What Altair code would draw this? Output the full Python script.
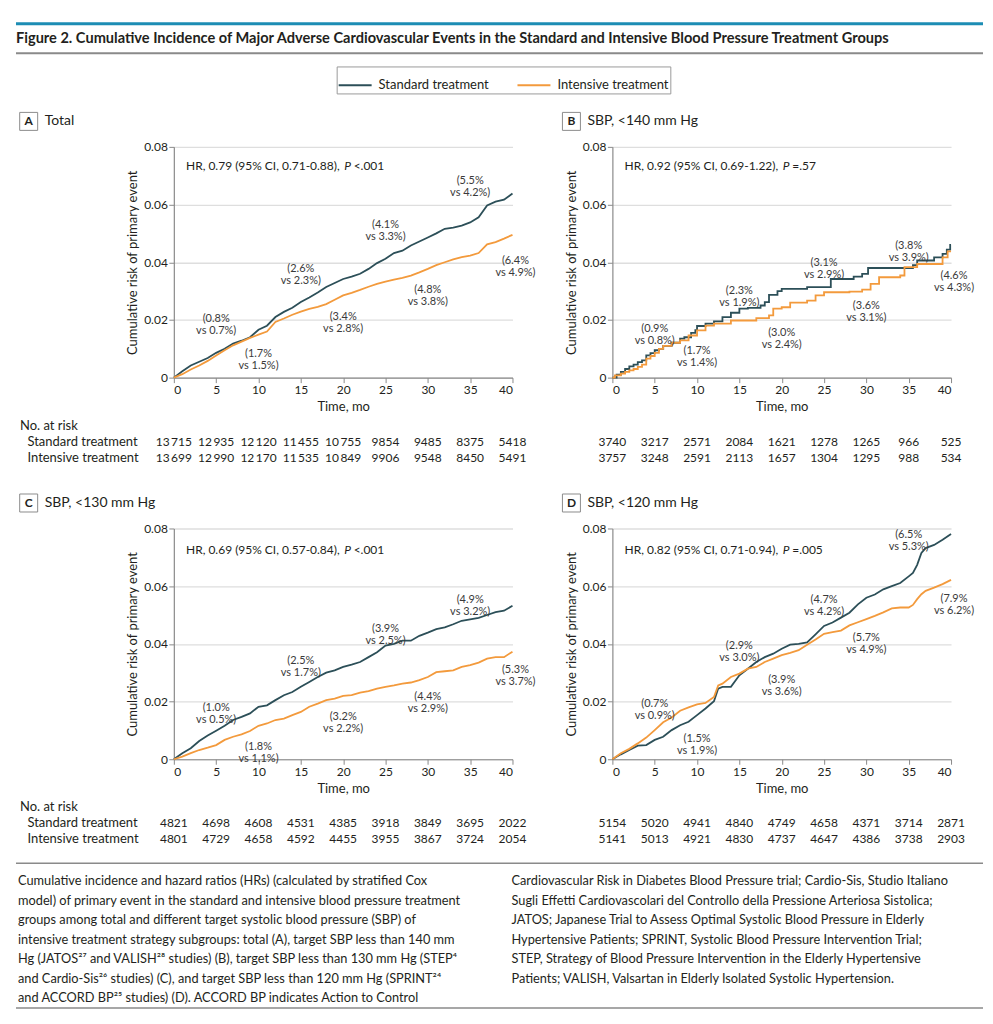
import altair as alt
import pandas as pd

FONT = "Lato"
TXT = "#231f20"
ANN = "#3a3a3a"
STD = "Standard treatment"
INT = "Intensive treatment"
GROUPS = [STD, INT]
COLORS = ["#2c4f58", "#f39a3c"]
W, H = 339, 231
TICKS_X = [0, 5, 10, 15, 20, 25, 30, 35, 40]
TICKS_Y = [0, 0.02, 0.04, 0.06, 0.08]

# ---------------- curve readings ----------------
a_time = list(range(41))
a_std = [0, .0022, .0042, .0055, .0068, .0086, .0100, .0118, .0128, .0140, .0166, .0180, .0210, .0228,
         .0242, .0262, .0278, .0295, .0314, .0328, .0342, .0350, .0360, .0377, .0397, .0412, .0432,
         .0440, .0458, .0472, .0486, .0500, .0516, .0520, .0527, .0538, .0556, .0597, .0610, .0617, .0638]
a_int = [0, .0012, .0028, .0042, .0058, .0077, .0095, .0112, .0125, .0138, .0149, .0160, .0193, .0205,
         .0218, .0229, .0238, .0245, .0255, .0270, .0285, .0294, .0304, .0315, .0325, .0333, .0340,
         .0346, .0354, .0365, .0377, .0390, .0400, .0410, .0418, .0423, .0432, .0462, .0470, .0482, .0495]

b_std_time = [0, 0.5, 1, 1.5, 2, 2.5, 3, 3.5, 4, 4.5, 5, 5.5, 6, 7, 8, 8.5, 9.3, 9.8, 10, 11, 12, 13, 14,
              15, 16, 17.5, 18, 18.5, 19.5, 20, 23, 25.8, 28.5, 29.5, 30.2, 35.5, 36, 38, 39, 39.5, 39.9, 40]
b_std = [0, .0010, .0020, .0030, .0039, .0045, .0054, .0060, .0077, .0085, .0095, .0100, .0110, .0121,
         .0135, .0140, .0155, .0165, .0179, .0187, .0195, .0210, .0225, .0239, .0242, .0250, .0262, .0287,
         .0300, .0308, .0314, .0342, .0350, .0360, .0380, .0390, .0406, .0417, .0429, .0444, .0460, .0460]
b_int_time = [0, 0.3, 1, 1.5, 2, 2.5, 3, 3.5, 4, 4.5, 5, 5.5, 6, 7, 8, 9, 10, 11, 12, 14, 17, 18.5, 19,
              20, 21, 23, 24, 25, 28, 29.5, 30.5, 31.5, 34, 34.5, 36, 39, 39.6, 40]
b_int = [0, .0008, .0014, .0020, .0025, .0030, .0037, .0045, .0066, .0075, .0086, .0100, .0110, .0121,
         .0129, .0146, .0164, .0180, .0187, .0198, .0206, .0216, .0239, .0244, .0260, .0267, .0285, .0296,
         .0298, .0305, .0325, .0348, .0354, .0383, .0394, .0417, .0438, .0438]

c_time = list(range(41))
c_std = [0, .0021, .0038, .0063, .0082, .0099, .0116, .0136, .0147, .0159, .0182, .0187, .0205, .0222,
         .0233, .0251, .0268, .0285, .0300, .0308, .0320, .0328, .0337, .0354, .0371, .0394, .0400,
         .0411, .0411, .0428, .0439, .0451, .0457, .0468, .0480, .0485, .0490, .0500, .0510, .0515, .0532]
c_int = [0, .0009, .0021, .0032, .0040, .0049, .0067, .0078, .0086, .0098, .0116, .0124, .0136, .0141,
         .0153, .0164, .0182, .0193, .0205, .0210, .0220, .0222, .0231, .0236, .0245, .0251, .0256,
         .0262, .0266, .0274, .0285, .0302, .0305, .0308, .0320, .0326, .0335, .0349, .0354, .0354, .0373]

d_time = [0, 1, 2, 3, 4, 5, 6, 7, 8, 9, 10, 11, 12, 12.5, 13, 14, 15, 16, 17, 18, 19, 20, 21, 22, 23, 24,
          25, 26, 27, 28, 29, 30, 31, 32, 33, 34, 35, 35.5, 36, 36.5, 37, 38, 39, 40]
d_std = [0, .0017, .0032, .0047, .0049, .0067, .0078, .0101, .0118, .0130, .0153, .0176, .0201, .0245,
         .0251, .0251, .0291, .0314, .0337, .0354, .0366, .0383, .0397, .0400, .0405, .0433, .0462, .0474,
         .0491, .0508, .0537, .0560, .0571, .0589, .0600, .0611, .0634, .0646, .0674, .0715, .0732, .0743,
         .0761, .0781]
d_int = [0, .0021, .0036, .0055, .0075, .0101, .0128, .0145, .0168, .0180, .0190, .0195, .0216, .0256,
         .0262, .0285, .0297, .0314, .0320, .0337, .0349, .0361, .0369, .0378, .0397, .0415, .0435, .0441,
         .0446, .0464, .0475, .0486, .0497, .0509, .0523, .0526, .0526, .0535, .0555, .0572, .0584, .0595,
         .0607, .0622]

# ---------------- annotation labels (time, risk, text) ----------------
ANN_TIME = [5, 10, 15, 20, 25, 30, 35, 40.35]
a_ann_r = [.0204, .0083, .0377, .0209, .0529, .0305, .0680, .0405]
a_ann = ["(0.8%\nvs 0.7%)", "(1.7%\nvs 1.5%)", "(2.6%\nvs 2.3%)", "(3.4%\nvs 2.8%)",
         "(4.1%\nvs 3.3%)", "(4.8%\nvs 3.8%)", "(5.5%\nvs 4.2%)", "(6.4%\nvs 4.9%)"]
b_ann_r = [.0167, .0091, .0300, .0153, .0397, .0247, .0456, .0354]
b_ann = ["(0.9%\nvs 0.8%)", "(1.7%\nvs 1.4%)", "(2.3%\nvs 1.9%)", "(3.0%\nvs 2.4%)",
         "(3.1%\nvs 2.9%)", "(3.6%\nvs 3.1%)", "(3.8%\nvs 3.9%)", "(4.6%\nvs 4.3%)"]
c_ann_r = [.0179, .0041, .0340, .0146, .0452, .0215, .0552, .0308]
c_ann = ["(1.0%\nvs 0.5%)", "(1.8%\nvs 1.1%)", "(2.5%\nvs 1.7%)", "(3.2%\nvs 2.2%)",
         "(3.9%\nvs 2.5%)", "(4.4%\nvs 2.9%)", "(4.9%\nvs 3.2%)", "(5.3%\nvs 3.7%)"]
d_ann_r = [.0193, .0070, .0393, .0275, .0552, .0421, .0776, .0556]
d_ann = ["(0.7%\nvs 0.9%)", "(1.5%\nvs 1.9%)", "(2.9%\nvs 3.0%)", "(3.9%\nvs 3.6%)",
         "(4.7%\nvs 4.2%)", "(5.7%\nvs 4.9%)", "(6.5%\nvs 5.3%)", "(7.9%\nvs 6.2%)"]

# ---------------- HR statements ----------------
a_hr = ("HR, 0.79 (95% CI, 0.71-0.88),", "<.001")
b_hr = ("HR, 0.92 (95% CI, 0.69-1.22),", "=.57")
c_hr = ("HR, 0.69 (95% CI, 0.57-0.84),", "<.001")
d_hr = ("HR, 0.82 (95% CI, 0.71-0.94),", "=.005")

# ---------------- number at risk ----------------
a_risk_std = [13715, 12935, 12120, 11455, 10755, 9854, 9485, 8375, 5418]
a_risk_int = [13699, 12990, 12170, 11535, 10849, 9906, 9548, 8450, 5491]
b_risk_std = [3740, 3217, 2571, 2084, 1621, 1278, 1265, 966, 525]
b_risk_int = [3757, 3248, 2591, 2113, 1657, 1304, 1295, 988, 534]
c_risk_std = [4821, 4698, 4608, 4531, 4385, 3918, 3849, 3695, 2022]
c_risk_int = [4801, 4729, 4658, 4592, 4455, 3955, 3867, 3724, 2054]
d_risk_std = [5154, 5020, 4941, 4840, 4749, 4658, 4371, 3714, 2871]
d_risk_int = [5141, 5013, 4921, 4830, 4737, 4647, 4386, 3738, 2903]

FIG_TITLE = ("Figure 2. Cumulative Incidence of Major Adverse Cardiovascular Events in the "
             "Standard and Intensive Blood Pressure Treatment Groups")
CAPTION_LEFT = [
    "Cumulative incidence and hazard ratios (HRs) (calculated by stratified Cox",
    "model) of primary event in the standard and intensive blood pressure treatment",
    "groups among total and different target systolic blood pressure (SBP) of",
    "intensive treatment strategy subgroups: total (A), target SBP less than 140 mm",
    "Hg (JATOS\u00b2\u2077 and VALISH\u00b2\u2078 studies) (B), target SBP less than 130 mm Hg (STEP\u2074",
    "and Cardio-Sis\u00b2\u2076 studies) (C), and target SBP less than 120 mm Hg (SPRINT\u00b2\u2074",
    "and ACCORD BP\u00b2\u2075 studies) (D). ACCORD BP indicates Action to Control",
]
CAPTION_RIGHT = [
    "Cardiovascular Risk in Diabetes Blood Pressure trial; Cardio-Sis, Studio Italiano",
    "Sugli Effetti Cardiovascolari del Controllo della Pressione Arteriosa Sistolica;",
    "JATOS; Japanese Trial to Assess Optimal Systolic Blood Pressure in Elderly",
    "Hypertensive Patients; SPRINT, Systolic Blood Pressure Intervention Trial;",
    "STEP, Strategy of Blood Pressure Intervention in the Elderly Hypertensive",
    "Patients; VALISH, Valsartan in Elderly Isolated Systolic Hypertension.",
]


def fmt_n(n):
    s = str(n)
    if len(s) >= 5:
        return s[:-3] + "\u2009" + s[-3:]
    return s


ONE = pd.DataFrame({"k": [0]})


def txt(text, x, y, size=12, weight="normal", align="left", baseline="middle", style="normal",
        color=TXT, **kw):
    return alt.Chart(ONE).mark_text(text=text, font=FONT, fontSize=size, fontWeight=weight, align=align,
                                    baseline=baseline, fontStyle=style, color=color, **kw).encode(
        x=alt.value(x), y=alt.value(y))


def rule(x1, x2, y, color, width):
    return alt.Chart(ONE).mark_rule(color=color, strokeWidth=width).encode(
        x=alt.value(x1), x2=alt.value(x2), y=alt.value(y))


legend = alt.Legend(orient="none", legendX=163, legendY=-80.5, direction="horizontal", title=None,
                    symbolType="stroke", symbolSize=1089, symbolStrokeWidth=2, labelFont=FONT,
                    labelFontSize=13, labelColor=TXT, strokeColor="#9a9a9a", padding=1,
                    columnPadding=24, labelOffset=6, fillColor="white", labelLimit=400)


def panel(letter, name, name_x, t_std, v_std, t_int, v_int, interp, ann_r, ann, hr, hr_y,
          risk_std, risk_int, row_labels, show_legend, extra=()):
    df = pd.DataFrame({"time": list(t_std) + list(t_int), "risk": list(v_std) + list(v_int),
                       "group": [STD] * len(t_std) + [INT] * len(t_int)})
    x = alt.X("time:Q", scale=alt.Scale(domain=[0, 40], nice=False),
              axis=alt.Axis(values=TICKS_X, title="Time, mo", grid=False, titlePadding=5))
    y = alt.Y("risk:Q", scale=alt.Scale(domain=[0, 0.08], nice=False),
              axis=alt.Axis(values=TICKS_Y, title="Cumulative risk of primary event", grid=True,
                            labelExpr="datum.value == 0 ? '0' : format(datum.value, '.2f')",
                            titlePadding=4))
    color = alt.Color("group:N", scale=alt.Scale(domain=GROUPS, range=COLORS),
                      legend=legend if show_legend else None)
    lines = alt.Chart(df).mark_line(interpolate=interp, strokeWidth=1.8).encode(
        x=x, y=y, color=color, detail="group:N")

    ann_df = pd.DataFrame({"time": ANN_TIME, "risk": ann_r, "label": ann})
    notes = alt.Chart(ann_df).mark_text(font=FONT, fontSize=11, lineBreak="\n", lineHeight=12,
                                        align="center", baseline="middle", color=ANN).encode(
        x="time:Q", y="risk:Q", text="label:N")

    tab = pd.DataFrame({"time": TICKS_X, "s": [fmt_n(v) for v in risk_std],
                        "i": [fmt_n(v) for v in risk_int]})
    row_s = alt.Chart(tab).mark_text(font=FONT, fontSize=12, align="center", baseline="middle",
                                     color=TXT).encode(x="time:Q", y=alt.value(H + 64), text="s:N")
    row_i = alt.Chart(tab).mark_text(font=FONT, fontSize=12, align="center", baseline="middle",
                                     color=TXT).encode(x="time:Q", y=alt.value(H + 80), text="i:N")

    box = alt.Chart(ONE).mark_rect(fill="white", stroke="#8c8c8c", strokeWidth=1).encode(
        x=alt.value(name_x - 25), x2=alt.value(name_x - 7), y=alt.value(-34.5), y2=alt.value(-16.5))
    layers = [lines, notes, row_s, row_i, box,
              txt(letter, name_x - 16, -25.5, size=12, weight="bold", align="center"),
              txt(name, name_x, -25.5, size=14),
              txt(hr[0], 166, hr_y, size=12, align="right"),
              txt("P", 170.5, hr_y, size=12, style="italic"),
              txt(hr[1], 180, hr_y, size=12)]
    if row_labels:
        layers += [txt("No. at risk", -154, H + 48, size=13),
                   txt(STD, -146.5, H + 64, size=13),
                   txt(INT, -146.5, H + 80, size=13)]
    layers += list(extra)
    return alt.layer(*layers).properties(width=W, height=H)


RIGHT = 810
header = [
    rule(-158, RIGHT, -123.3, "#1c8db4", 3),
    txt(FIG_TITLE, -158, -108, size=14.6, weight="bold"),
    rule(-158, RIGHT, -93.7, "#8a8a8a", 2),
]
caption = [
    rule(-158, RIGHT, 335, "#8a8a8a", 1.5),
    alt.Chart(ONE).mark_text(text="\n".join(CAPTION_LEFT), font=FONT, fontSize=12.8, lineBreak="\n",
                             lineHeight=19.5, align="left", baseline="top", color=TXT).encode(
        x=alt.value(-156), y=alt.value(347)),
    alt.Chart(ONE).mark_text(text="\n".join(CAPTION_RIGHT), font=FONT, fontSize=12.8, lineBreak="\n",
                             lineHeight=19.5, align="left", baseline="top", color=TXT).encode(
        x=alt.value(338), y=alt.value(347)),
    rule(-158, RIGHT, 480, "#8a8a8a", 1.5),
]

pA = panel("A", "Total", -129.3, a_time, a_std, a_time, a_int, "linear", a_ann_r, a_ann, a_hr, 19,
           a_risk_std, a_risk_int, True, True, header)
pB = panel("B", "SBP, <140 mm Hg", -25, b_std_time, b_std, b_int_time, b_int, "step-after", b_ann_r,
           b_ann, b_hr, 19, b_risk_std, b_risk_int, False, False)
pC = panel("C", "SBP, <130 mm Hg", -129.3, c_time, c_std, c_time, c_int, "linear", c_ann_r, c_ann,
           c_hr, 22, c_risk_std, c_risk_int, True, False, caption)
pD = panel("D", "SBP, <120 mm Hg", -25, d_time, d_std, d_time, d_int, "linear", d_ann_r, d_ann,
           d_hr, 22, d_risk_std, d_risk_int, False, False)

chart = alt.concat(
    pA, pB, pC, pD, columns=2, spacing={"row": 151, "column": 100}, bounds="flush",
).properties(
    padding={"left": 6, "top": 13.5, "right": 0, "bottom": 0}
).configure_view(stroke=None).configure_axis(
    labelFont=FONT, titleFont=FONT, labelFontSize=12, titleFontSize=13, labelColor=TXT,
    titleColor=TXT, titleFontWeight="normal", domainColor="#8a8a8a", tickColor="#8a8a8a",
    tickSize=5, labelPadding=1.5, gridColor="#dedede", gridWidth=1.3, domainWidth=1.2,
).configure_axisX(labelPadding=2)

chart.save("out.html", embed_options={"renderer": "svg", "actions": False})
